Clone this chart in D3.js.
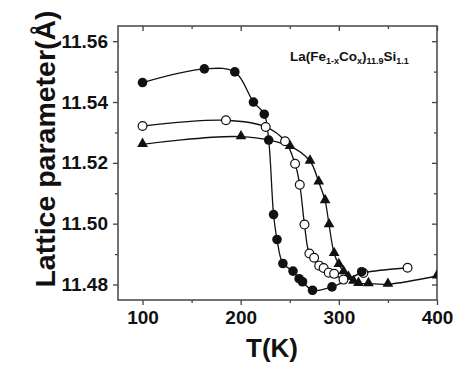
<html>
<head>
<meta charset="utf-8">
<script src="https://d3js.org/d3.v7.min.js"></script>
<style>
body { margin: 0; background: #fff; }
text { font-family: "Liberation Sans", Arial, sans-serif; font-weight: bold; }
</style>
</head>
<body>
<svg width="474" height="391"></svg>
<script>
// filled circles
var tFilled = [100, 163, 194, 213, 224, 228.5, 233.5, 237, 243, 253.3, 259.5, 263, 273.2, 293, 323.3];
var aFilled = [11.5464, 11.5509, 11.5499, 11.5400, 11.5360, 11.5275, 11.5030, 11.4948, 11.4869, 11.4844, 11.4819, 11.4809, 11.4781, 11.4792, 11.4842];
// open circles
var tOpen = [100, 185, 225.5, 245.2, 255.4, 260.2, 265, 270, 274.8, 280, 284.5, 289.7, 295.2, 304.7, 325, 370];
var aOpen = [11.5321, 11.5340, 11.5318, 11.5271, 11.5197, 11.5128, 11.4997, 11.4902, 11.4888, 11.4862, 11.4854, 11.4839, 11.4835, 11.4816, 11.4838, 11.4855];
// triangles
var tTri = [100, 200.3, 250.3, 270.6, 279.5, 286, 290, 295.2, 300, 304.8, 309.8, 314.9, 320, 330.2, 350, 400];
var aTri = [11.5261, 11.5286, 11.5254, 11.5206, 11.5137, 11.5076, 11.4997, 11.4902, 11.4866, 11.4842, 11.4824, 11.4811, 11.4804, 11.4803, 11.4801, 11.4828];

var xMajor = [100, 200, 300, 400];
var xMinor = [150, 250, 350];
var yMajor = [11.48, 11.50, 11.52, 11.54, 11.56];
var yMinor = [11.49, 11.51, 11.53, 11.55];

var svg = d3.select("svg");
var L = 118, R = 437, T = 26, B = 300;

var x = d3.scaleLinear().domain([75, 400]).range([L, R]);
var y = d3.scaleLinear().domain([11.4749, 11.565]).range([B, T]);

svg.append("clipPath").attr("id", "clip")
  .append("rect").attr("x", L).attr("y", T).attr("width", R - L).attr("height", B - T);

// axes
function styleAxis(g) {
  g.select(".domain").remove();
  g.selectAll(".tick line").attr("stroke", "#444").attr("stroke-width", 1.3);
  g.selectAll(".tick text").attr("fill", "#111").style("font-size", "19px");
}
svg.append("g").attr("transform", "translate(" + L + ",0)")
  .call(d3.axisLeft(y).tickValues(yMajor).tickSize(5).tickPadding(5).tickFormat(d3.format(".2f")))
  .call(styleAxis);
svg.append("g").attr("transform", "translate(" + L + ",0)")
  .call(d3.axisLeft(y).tickValues(yMinor).tickSize(3).tickFormat(""))
  .call(styleAxis);
svg.append("g").attr("transform", "translate(" + R + ",0)")
  .call(d3.axisRight(y).tickValues(yMajor).tickSize(-5).tickFormat(""))
  .call(styleAxis);
svg.append("g").attr("transform", "translate(" + R + ",0)")
  .call(d3.axisRight(y).tickValues(yMinor).tickSize(-3).tickFormat(""))
  .call(styleAxis);
svg.append("g").attr("transform", "translate(0," + B + ")")
  .call(d3.axisBottom(x).tickValues(xMajor).tickSize(5).tickPadding(6).tickFormat(d3.format("d")))
  .call(styleAxis);
svg.append("g").attr("transform", "translate(0," + B + ")")
  .call(d3.axisBottom(x).tickValues(xMinor).tickSize(3).tickFormat(""))
  .call(styleAxis);
svg.append("g").attr("transform", "translate(0," + T + ")")
  .call(d3.axisTop(x).tickValues(xMajor).tickSize(-5).tickFormat(""))
  .call(styleAxis);
svg.append("g").attr("transform", "translate(0," + T + ")")
  .call(d3.axisTop(x).tickValues(xMinor).tickSize(-3).tickFormat(""))
  .call(styleAxis);

svg.append("rect").attr("x", L).attr("y", T).attr("width", R - L).attr("height", B - T)
  .attr("fill", "none").attr("stroke", "#444").attr("stroke-width", 1.5);

// series
var line = d3.line().x(function (d) { return x(d[0]); }).y(function (d) { return y(d[1]); })
  .curve(d3.curveCatmullRom.alpha(0.5));
var plot = svg.append("g").attr("clip-path", "url(#clip)");

function series(ts, as) { return ts.map(function (t, i) { return [t, as[i]]; }); }
var sF = series(tFilled, aFilled), sO = series(tOpen, aOpen), sT = series(tTri, aTri);

[sF, sO, sT].forEach(function (s) {
  plot.append("path").datum(s).attr("d", line)
    .attr("fill", "none").attr("stroke", "#111").attr("stroke-width", 1.3);
});

plot.selectAll(".tri").data(sT).enter().append("path")
  .attr("transform", function (d) { return "translate(" + x(d[0]) + "," + (y(d[1]) - 0.5) + ")"; })
  .attr("d", d3.symbol().type(d3.symbolTriangle).size(50))
  .attr("fill", "#111");
plot.selectAll(".open").data(sO).enter().append("circle")
  .attr("cx", function (d) { return x(d[0]); }).attr("cy", function (d) { return y(d[1]); })
  .attr("r", 4.4).attr("fill", "#fff").attr("stroke", "#111").attr("stroke-width", 1.2);
plot.selectAll(".filled").data(sF).enter().append("circle")
  .attr("cx", function (d) { return x(d[0]); }).attr("cy", function (d) { return y(d[1]); })
  .attr("r", 4.8).attr("fill", "#111");

// labels
svg.append("text").attr("x", 272).attr("y", 357).attr("text-anchor", "middle")
  .style("font-size", "26px").attr("fill", "#111").text("T(K)");
svg.append("text").attr("transform", "translate(55,149) rotate(-90)").attr("text-anchor", "middle")
  .style("font-size", "28.5px").attr("fill", "#111").text("Lattice parameter(Å)");

var f = svg.append("text").attr("x", 290).attr("y", 61).style("font-size", "13.5px").attr("fill", "#111");
f.append("tspan").text("La(Fe");
f.append("tspan").attr("dy", 3).style("font-size", "9px").text("1-x");
f.append("tspan").attr("dy", -3).text("Co");
f.append("tspan").attr("dy", 3).style("font-size", "9px").text("x");
f.append("tspan").attr("dy", -3).text(")");
f.append("tspan").attr("dy", 3).style("font-size", "9px").text("11.9");
f.append("tspan").attr("dy", -3).text("Si");
f.append("tspan").attr("dy", 3).style("font-size", "9px").text("1.1");
</script>
</body>
</html>
